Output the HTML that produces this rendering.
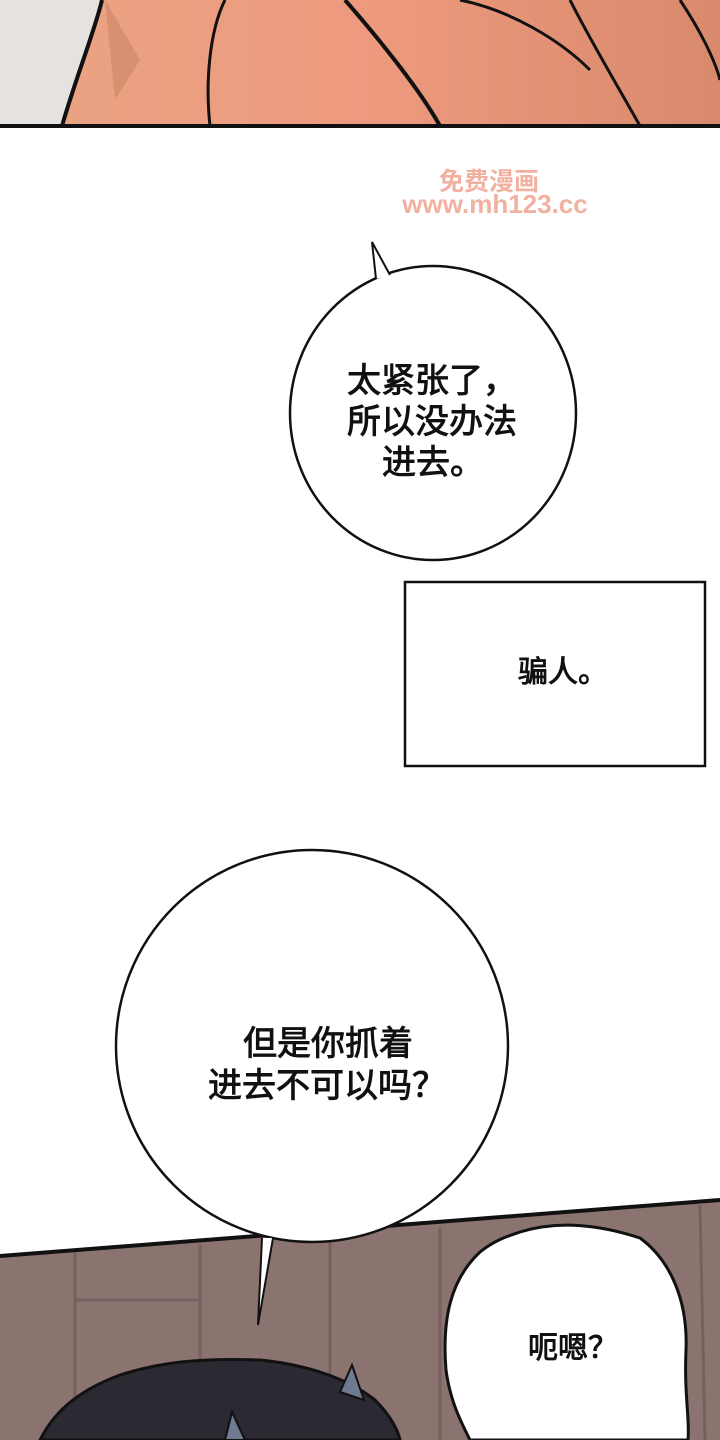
<!DOCTYPE html>
<html><head><meta charset="utf-8"><style>
html,body{margin:0;padding:0;background:#fff}
svg{display:block}
text{font-family:"Liberation Sans","Noto Sans CJK SC",sans-serif;}
.t{stroke:#111;stroke-width:0.9;}
</style></head><body>
<svg width="720" height="1440" viewBox="0 0 720 1440" xmlns="http://www.w3.org/2000/svg">
<defs>
<linearGradient id="skin" x1="0" y1="0" x2="1" y2="0">
<stop offset="0" stop-color="#e9a583"/><stop offset="0.5" stop-color="#ee9a7e"/><stop offset="1" stop-color="#d98a6c"/>
</linearGradient>
</defs>
<rect x="0" y="0" width="720" height="126" fill="url(#skin)"/>
<path d="M0 0 L102 0 C95 30 75 80 62 126 L0 126 Z" fill="#e6e2df"/>
<path d="M62 126 C75 80 95 30 102 0" stroke="#111" stroke-width="4" fill="none"/>
<path d="M210 126 C205 80 210 30 225 0" stroke="#111" stroke-width="3" fill="none"/>
<path d="M345 0 C380 40 420 90 440 126" stroke="#111" stroke-width="4" fill="none"/>
<path d="M460 0 C510 10 560 40 590 70" stroke="#111" stroke-width="3" fill="none"/>
<path d="M570 0 C590 40 620 90 640 126" stroke="#111" stroke-width="3" fill="none"/>
<path d="M680 0 C700 30 715 60 720 80" stroke="#111" stroke-width="3" fill="none"/>
<path d="M105 0 L140 60 L115 100 Z" fill="#c98565" opacity="0.6"/>
<rect x="0" y="124" width="720" height="4" fill="#111"/>
<text x="489" y="190" font-size="25" fill="#f2b1a0" text-anchor="middle" font-weight="bold">免费漫画</text>
<text x="495" y="213" font-size="26" fill="#f2b1a0" text-anchor="middle" font-weight="bold">www.mh123.cc</text>
<!-- bubble 1 -->
<ellipse cx="433" cy="413" rx="143" ry="147" fill="#fff" stroke="#111" stroke-width="2.5"/>
<path d="M376 279 L372 242 L390 275" fill="#fff" stroke="#111" stroke-width="2"/>
<text class="t" font-size="34" fill="#111"><tspan x="347" y="392">太紧张了，</tspan><tspan x="347" y="433">所以没办法</tspan><tspan x="382" y="474">进去。</tspan></text>
<rect x="405" y="582" width="300" height="184" fill="#fff" stroke="#111" stroke-width="2.5"/>
<text class="t" x="518" y="682" font-size="30" fill="#111">骗人。</text>
<!-- bottom panel -->
<polygon points="0,1256 720,1200 720,1440 0,1440" fill="#8b7370"/>
<g stroke="#6e5755" stroke-width="3" opacity="0.7">
<line x1="75" y1="1252" x2="75" y2="1440"/><line x1="200" y1="1245" x2="200" y2="1440"/>
<line x1="330" y1="1236" x2="330" y2="1440"/><line x1="440" y1="1228" x2="440" y2="1440"/>
<line x1="700" y1="1205" x2="705" y2="1440"/><line x1="75" y1="1300" x2="200" y2="1300"/>
</g>
<line x1="0" y1="1256" x2="720" y2="1200" stroke="#111" stroke-width="4"/>
<ellipse cx="312" cy="1046" rx="196" ry="196" fill="#fff" stroke="#111" stroke-width="2.5"/>
<path d="M262 1238 L258 1325 L273 1238" fill="#fff" stroke="#111" stroke-width="2"/>
<text class="t" font-size="34" fill="#111"><tspan x="243" y="1055">但是你抓着</tspan><tspan x="208" y="1097">进去不可以吗？</tspan></text>
<path d="M40 1440 C55 1410 80 1390 120 1375 C160 1362 200 1358 260 1360 C310 1365 350 1380 375 1400 C390 1415 398 1430 400 1440 Z" fill="#2b2932" stroke="#111" stroke-width="3"/>
<path d="M340 1392 L352 1365 L364 1400 Z" fill="#6d7a90" stroke="#111" stroke-width="2"/>
<path d="M225 1440 L232 1412 L245 1440 Z" fill="#6d7a90" stroke="#111" stroke-width="2"/>
<path d="M520 1232 C560 1220 600 1225 640 1238 C670 1260 688 1300 686 1350 C684 1395 690 1420 688 1440 L470 1440 C460 1420 450 1400 446 1370 C442 1320 450 1280 480 1252 C495 1240 508 1236 520 1232 Z" fill="#fff" stroke="#111" stroke-width="3"/>
<text class="t" x="528" y="1358" font-size="30" fill="#111">呃嗯？</text>
</svg>
</body></html>
